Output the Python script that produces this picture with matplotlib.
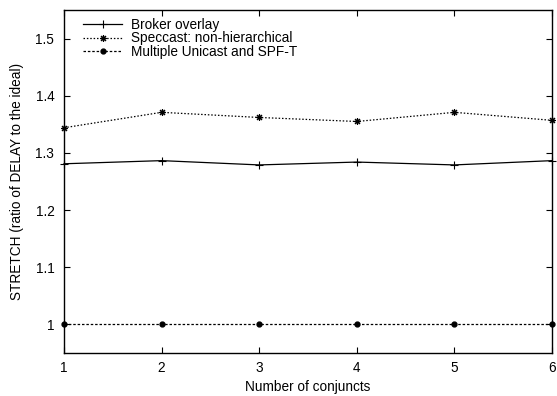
import matplotlib
matplotlib.use("Agg")
import matplotlib.pyplot as plt

conjuncts = [1, 2, 3, 4, 5, 6]
broker = [1.281, 1.2865, 1.279, 1.284, 1.279, 1.2865]
speccast = [1.344, 1.371, 1.362, 1.355, 1.371, 1.357]
unicast = [1.0, 1.0, 1.0, 1.0, 1.0, 1.0]
yticks = [1, 1.1, 1.2, 1.3, 1.4, 1.5]
ytick_labels = ["1", "1.1", "1.2", "1.3", "1.4", "1.5"]

plt.rcParams['font.family'] = ['Liberation Sans', 'DejaVu Sans']
FS = 9.8

fig = plt.figure(figsize=(5.57, 3.96), dpi=100)
ax = fig.add_axes([64/557, 1 - 353/396, (552-64)/557, (353-10)/396])

ax.plot(conjuncts, broker, color='black', lw=0.9, marker='+', ms=6, mew=0.8,
        label='Broker overlay', clip_on=False)
ax.plot(conjuncts, speccast, color='black', lw=0.9, ls=(0, (1.2, 1.5)), marker=(8, 2, 0),
        ms=5, mew=0.8, label='Speccast: non-hierarchical', clip_on=False)
ax.plot(conjuncts, unicast, color='black', lw=0.9, ls=(0, (2, 1.5)), marker='o',
        ms=3.5, label='Multiple Unicast and SPF-T', clip_on=False)

ax.set_xlim(1, 6)
ax.set_ylim(0.95, 1.55)
ax.set_xticks(conjuncts)
ax.set_yticks(yticks)
ax.set_yticklabels(ytick_labels)
ax.tick_params(direction='in', top=True, right=True, length=4, width=0.8, labelsize=FS)
ax.tick_params(axis='y', pad=7)
ax.tick_params(axis='x', pad=6)
for s in ax.spines.values():
    s.set_linewidth(1.0)

ax.set_xlabel('Number of conjuncts', fontsize=FS, labelpad=3)
ax.set_ylabel('STRETCH (ratio of DELAY to the ideal)', fontsize=FS, labelpad=8)

leg = ax.legend(loc='upper left', frameon=False, fontsize=FS, handlelength=2.9,
                borderaxespad=0.0, borderpad=0.0, labelspacing=-0.05, handletextpad=0.6,
                bbox_to_anchor=(19/488, 1 - 8/343))

fig.savefig('out.png', dpi=100)
